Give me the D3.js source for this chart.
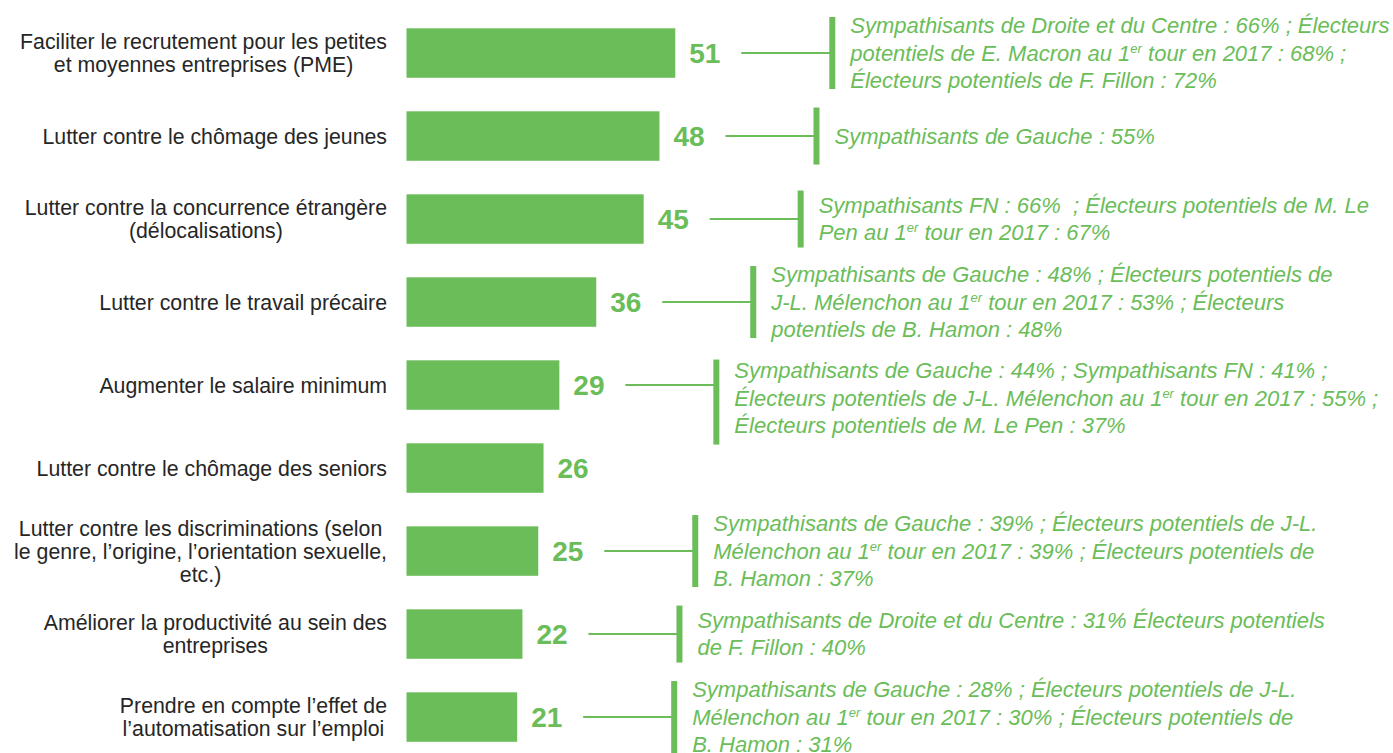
<!DOCTYPE html>
<html lang="fr">
<head>
<meta charset="utf-8">
<style>
  body { margin: 0; background: #fff; }
  text { font-family: "Liberation Sans", Arial, sans-serif; }
  .cat { fill: #262626; font-size: 21.3px; }
  .val { fill: #6abd59; font-size: 28px; font-weight: bold; }
  .note { fill: #6abd59; font-size: 22px; font-style: italic; white-space: pre; }
</style>
</head>
<body>
<svg width="1393" height="753"></svg>
<script src="https://cdnjs.cloudflare.com/ajax/libs/d3/7.8.5/d3.min.js"></script>
<script>
// categories (label lines) and scores
var categories = [
  ["Faciliter le recrutement pour les petites", "et moyennes entreprises (PME)"],
  ["Lutter contre le chômage des jeunes"],
  ["Lutter contre la concurrence étrangère", "(délocalisations)"],
  ["Lutter contre le travail précaire"],
  ["Augmenter le salaire minimum"],
  ["Lutter contre le chômage des seniors"],
  ["Lutter contre les discriminations (selon", "le genre, l’origine, l’orientation sexuelle,", "etc.)"],
  ["Améliorer la productivité au sein des", "entreprises"],
  ["Prendre en compte l’effet de", "l’automatisation sur l’emploi"]
];
var values = [51, 48, 45, 36, 29, 26, 25, 22, 21];

// sub-group call-outs, "^" marks superscript
var notes = [
  ["Sympathisants de Droite et du Centre : 66% ; Électeurs", "potentiels de E. Macron au 1^er tour en 2017 : 68% ;", "Électeurs potentiels de F. Fillon : 72%"],
  ["Sympathisants de Gauche : 55%"],
  ["Sympathisants FN : 66%  ; Électeurs potentiels de M. Le", "Pen au 1^er tour en 2017 : 67%"],
  ["Sympathisants de Gauche : 48% ; Électeurs potentiels de", "J-L. Mélenchon au 1^er tour en 2017 : 53% ; Électeurs", "potentiels de B. Hamon : 48%"],
  ["Sympathisants de Gauche : 44% ; Sympathisants FN : 41% ;", "Électeurs potentiels de J-L. Mélenchon au 1^er tour en 2017 : 55% ;", "Électeurs potentiels de M. Le Pen : 37%"],
  [],
  ["Sympathisants de Gauche : 39% ; Électeurs potentiels de J-L.", "Mélenchon au 1^er tour en 2017 : 39% ; Électeurs potentiels de", "B. Hamon : 37%"],
  ["Sympathisants de Droite et du Centre : 31% Électeurs potentiels", "de F. Fillon : 40%"],
  ["Sympathisants de Gauche : 28% ; Électeurs potentiels de J-L.", "Mélenchon au 1^er tour en 2017 : 30% ; Électeurs potentiels de", "B. Hamon : 31%"]
];

var green = "#6abd59";
var svg = d3.select("svg");
var idx = d3.range(values.length);

var x = d3.scaleLinear().domain([0, 51]).range([406.5, 675.3]);
var y = d3.scaleBand().domain(idx).range([28.3, 741.8]).paddingInner(0.404).paddingOuter(0);
var bh = y.bandwidth();

// bars
svg.selectAll(".bar").data(idx).enter().append("rect")
  .attr("class", "bar")
  .attr("x", x(0))
  .attr("y", function (i) { return y(i); })
  .attr("width", function (i) { return x(values[i]) - x(0); })
  .attr("height", bh)
  .attr("fill", green);

// value labels
svg.selectAll(".val").data(idx).enter().append("text")
  .attr("class", "val")
  .attr("x", function (i) { return x(values[i]) + 14; })
  .attr("y", function (i) { return y(i) + bh / 2; })
  .attr("dy", "0.36em")
  .text(function (i) { return values[i]; });

// category labels: block right-aligned, lines centred inside block
var labelRight = 387, lh = 23;
idx.forEach(function (i) {
  var lines = categories[i];
  var g = svg.append("g");
  var cy = y(i) + bh / 2;
  var t = g.selectAll("text").data(lines).enter().append("text")
    .attr("class", "cat")
    .attr("text-anchor", "middle")
    .attr("y", function (d, k) { return cy + 7.5 + (k - (lines.length - 1) / 2) * lh; })
    .text(function (d) { return d; });
  var w = d3.max(t.nodes(), function (n) { return n.getComputedTextLength(); });
  t.attr("x", labelRight - w / 2);
});

// call-outs
var nl = 27.3;
idx.forEach(function (i) {
  var lines = notes[i];
  if (!lines.length) return;
  var cy = y(i) + bh / 2;
  // a note may drift down into the free space below when the next row has none
  var free = i + 1 < notes.length && !notes[i + 1].length;
  var ty = cy + (free ? 13 : 0);
  var x0 = x(values[i]) + 66, x1 = x(values[i]) + 155;
  svg.append("line")
    .attr("x1", x0).attr("x2", x1).attr("y1", cy).attr("y2", cy)
    .attr("stroke", green).attr("stroke-width", 2);
  var hh = lines.length < 3 ? 57 : (free ? 85 : 72);
  svg.append("rect")
    .attr("x", x1 - 1).attr("y", (free ? cy + 17 : cy) - hh / 2)
    .attr("width", 6).attr("height", hh)
    .attr("fill", green);
  lines.forEach(function (s, k) {
    var t = svg.append("text")
      .attr("class", "note")
      .attr("x", x1 + 20)
      .attr("y", ty + 7.5 + (k - (lines.length - 1) / 2) * nl);
    var parts = s.split(/\^(\w+)/);
    parts.forEach(function (p, j) {
      if (j % 2 === 1) {
        t.append("tspan").attr("dy", -8).style("font-size", "13px").text(p);
      } else if (p.length) {
        t.append("tspan").attr("dy", j > 0 ? 8 : 0).text(p);
      }
    });
  });
});
</script>
</body>
</html>
